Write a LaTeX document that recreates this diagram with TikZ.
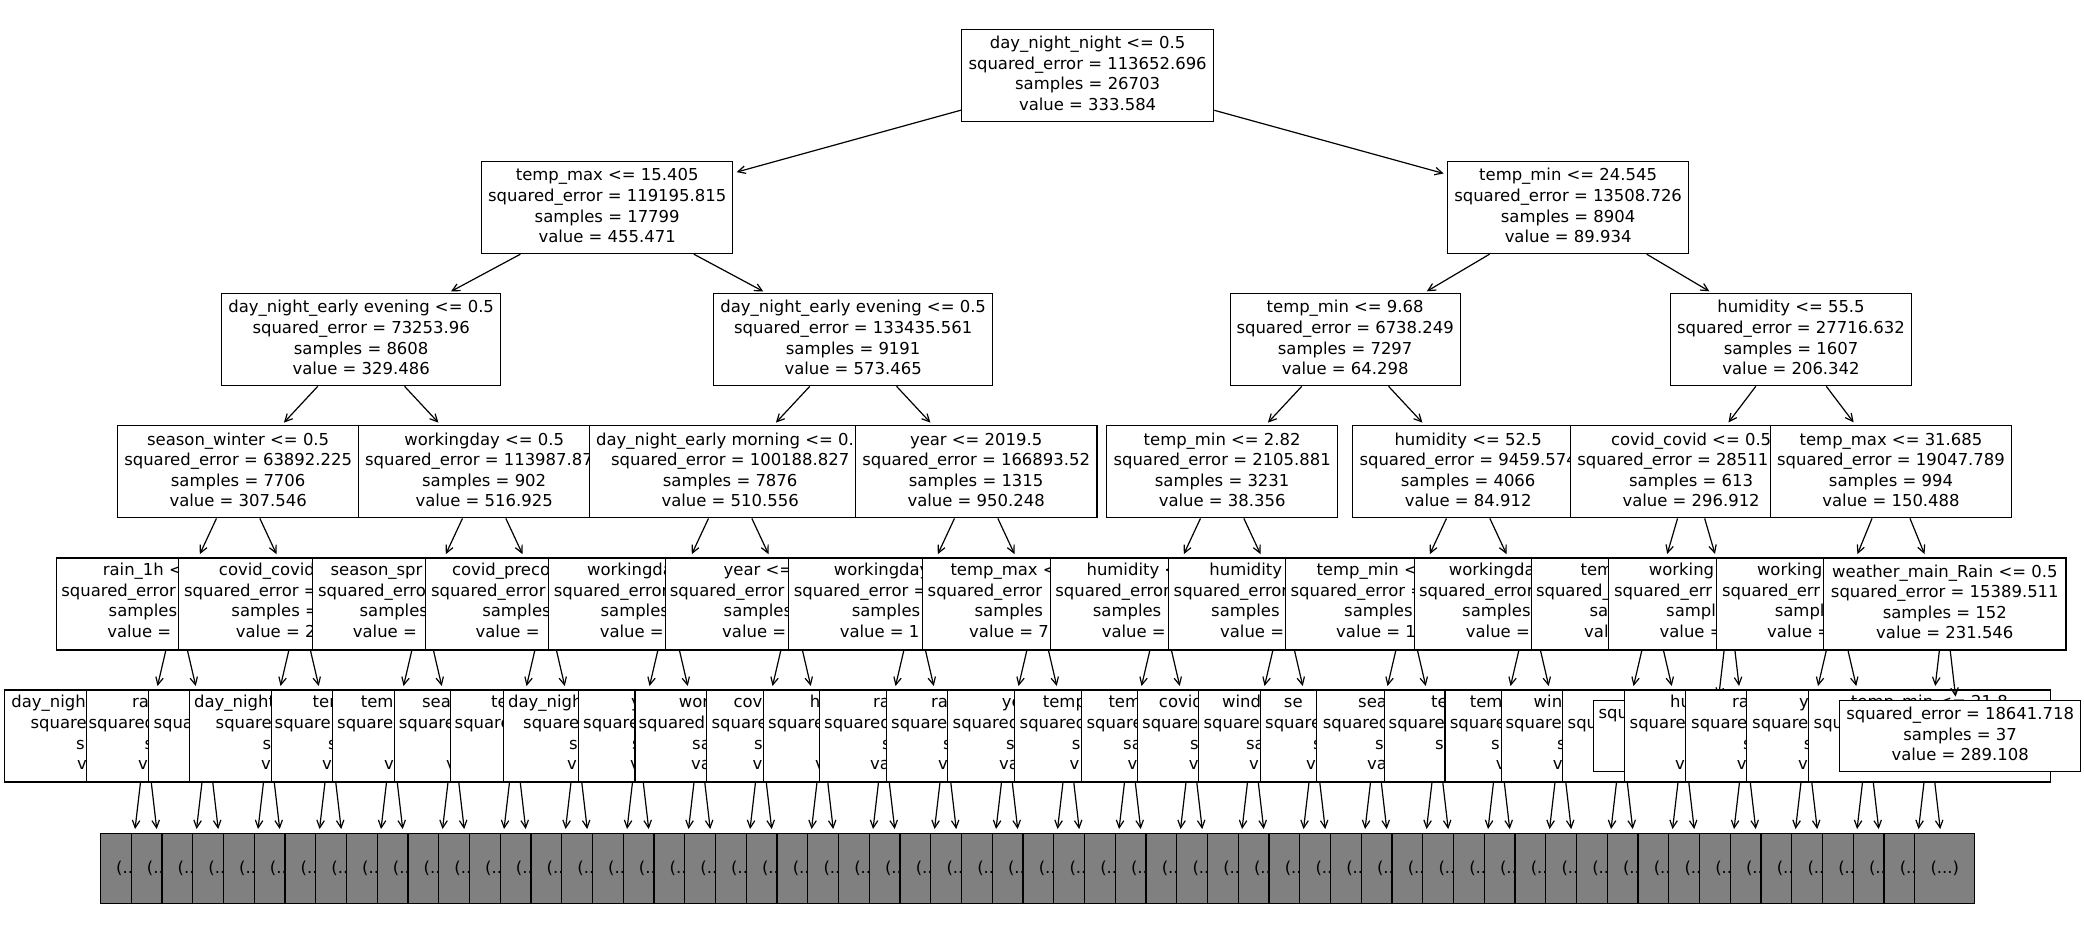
\documentclass[tikz,border=0pt]{standalone}
\usepackage{fontspec}
\setmainfont{DejaVu Sans}
\usetikzlibrary{arrows.meta}
\newcommand\fs{\fontsize{16.45}{20.6}\selectfont}
\newcounter{frc}
\newcommand\frg[3]{\stepcounter{frc}\node[fr] (fr\arabic{frc}) at (#1,#2) {#3};}
\newcommand\fourl[4]{\strut#1\\\strut#2\\\strut#3\\\strut#4}
\newcommand\threel[3]{\strut#1\\\strut#2\\\strut#3}
\def\rowda{573.0}\def\rowdb{593.6}\def\rowdc{614.2}\def\rowdd{634.8}
\def\rowfa{705.1}\def\rowfb{725.7}\def\rowfc{746.3}\def\rowfd{766.9}
\begin{document}
\begin{tikzpicture}[x=1pt,y=-1pt,
 bx/.style={draw=black,line width=1.2pt,fill=white,inner sep=0pt,minimum height=92pt,align=center,font=\fs},
 lfbox/.style={bx,minimum height=70.5pt},
 gbox/.style={draw=black,line width=1.2pt,fill=gray,inner sep=0pt,minimum width=60.2pt,minimum height=70pt,font=\fs},
 fr/.style={anchor=mid west,inner sep=0pt,font=\fs},
 frm/.style={anchor=mid,inner sep=0pt,font=\fs},
 arr/.style={line width=1.2pt,-{Straight Barb[length=7.5pt,width=7.5pt]},shorten >=3.5pt}]
\useasboundingbox (0,0) rectangle (2084,944);
\fill[white] (0,0) rectangle (2084,944);
% level 0
\node[bx,minimum width=252.2pt] (n0) at (1087.6,75.5) {\fourl{day\_night\_night <= 0.5}{squared\_error = 113652.696}{samples = 26703}{value = 333.584}};
% level 1
\node[bx,minimum width=251pt] (n1) at (607.15,207.6) {\fourl{temp\_max <= 15.405}{squared\_error = 119195.815}{samples = 17799}{value = 455.471}};
\node[bx,minimum width=241pt] (n2) at (1568.1,207.6) {\fourl{temp\_min <= 24.545}{squared\_error = 13508.726}{samples = 8904}{value = 89.934}};
% level 2
\node[bx,minimum width=279pt] (n3) at (361.15,339.7) {\fourl{day\_night\_early evening <= 0.5}{squared\_error = 73253.96}{samples = 8608}{value = 329.486}};
\node[bx,minimum width=279pt] (n4) at (853.15,339.7) {\fourl{day\_night\_early evening <= 0.5}{squared\_error = 133435.561}{samples = 9191}{value = 573.465}};
\node[bx,minimum width=230pt] (n5) at (1345.15,339.7) {\fourl{temp\_min <= 9.68}{squared\_error = 6738.249}{samples = 7297}{value = 64.298}};
\node[bx,minimum width=241pt] (n6) at (1791,339.7) {\fourl{humidity <= 55.5}{squared\_error = 27716.632}{samples = 1607}{value = 206.342}};
% level 3
\node[bx,minimum width=241.5pt] (q1) at (238.15,471.8) {\fourl{season\_winter <= 0.5}{squared\_error = 63892.225}{samples = 7706}{value = 307.546}};
\node[bx,minimum width=251.3pt] (q2) at (484.15,471.8) {\fourl{workingday <= 0.5}{squared\_error = 113987.87\phantom{0}}{samples = 902}{value = 516.925}};
\node[bx,minimum width=281.7pt] (q3) at (730.15,471.8) {\fourl{day\_night\_early morning <= 0.\phantom{5}}{squared\_error = 100188.827}{samples = 7876}{value = 510.556}};
\node[bx,minimum width=241.5pt] (q4) at (976.15,471.8) {\fourl{year <= 2019.5}{squared\_error = 166893.52}{samples = 1315}{value = 950.248}};
\node[bx,minimum width=230.8pt] (q5) at (1222.15,471.8) {\fourl{temp\_min <= 2.82}{squared\_error = 2105.881}{samples = 3231}{value = 38.356}};
\node[bx,minimum width=231.3pt] (q6) at (1468.15,471.8) {\fourl{humidity <= 52.5}{squared\_error = 9459.574}{samples = 4066}{value = 84.912}};
\node[bx,minimum width=241pt] (q7) at (1691.1,471.8) {\fourl{covid\_covid <= 0.5}{squared\_error = 28511\phantom{.000}}{samples = 613}{value = 296.912}};
\node[bx,minimum width=240.8pt] (q8) at (1890.98,471.8) {\fourl{temp\_max <= 31.685}{squared\_error = 19047.789}{samples = 994}{value = 150.488}};
\draw[arr] (n0) -- (n1); \draw[arr] (n0) -- (n2);
\draw[arr] (n1) -- (n3); \draw[arr] (n1) -- (n4);
\draw[arr] (n2) -- (n5); \draw[arr] (n2) -- (n6);
\draw[arr] (n3) -- (q1); \draw[arr] (n3) -- (q2);
\draw[arr] (n4) -- (q3); \draw[arr] (n4) -- (q4);
\draw[arr] (n5) -- (q5); \draw[arr] (n5) -- (q6);
\draw[arr] (n6) -- (q7); \draw[arr] (n6) -- (q8);
% level 4
\node[bx,minimum width=240.8pt] (p1) at (176.65,603.9) {};
\frg{102.7}{\rowda}{rain\_1h <}\frg{61.2}{\rowdb}{squared\_error}\frg{108.5}{\rowdc}{samples}\frg{107.1}{\rowdd}{value =}
\node[bx,minimum width=242.1pt] (p2) at (299.65,603.9) {};
\frg{218.75}{\rowda}{covid\_covid}\frg{183.9}{\rowdb}{squared\_error =}\frg{231.25}{\rowdc}{samples =}\frg{235.7}{\rowdd}{value = 2}
\node[bx,minimum width=220.3pt] (p3) at (422.65,603.9) {};
\frg{330.4}{\rowda}{season\_spr}\frg{317.9}{\rowdb}{squared\_erro}\frg{359.4}{\rowdc}{samples}\frg{352.7}{\rowdd}{value =}
\node[bx,minimum width=240.5pt] (p4) at (545.65,603.9) {};
\frg{451.8}{\rowda}{covid\_preco}\frg{430.8}{\rowdb}{squared\_error}\frg{482.1}{\rowdc}{samples}\frg{475.4}{\rowdd}{value =}
\node[bx,minimum width=239.9pt] (p5) at (668.65,603.9) {};
\frg{587}{\rowda}{workingda}\frg{553.6}{\rowdb}{squared\_error}\frg{600.4}{\rowdc}{samples}\frg{599.6}{\rowdd}{value =}
\node[bx,minimum width=252.1pt] (p6) at (791.65,603.9) {};
\frg{723.5}{\rowda}{year <=}\frg{669.6}{\rowdb}{squared\_error}\frg{723.5}{\rowdc}{samples}\frg{722}{\rowdd}{value =}
\node[bx,minimum width=252.9pt] (p7) at (914.65,603.9) {};
\frg{833.75}{\rowda}{workingday}\frg{793.6}{\rowdb}{squared\_error =}\frg{851.6}{\rowdc}{samples}\frg{839.6}{\rowdd}{value = 1}
\node[bx,minimum width=230.1pt] (p8) at (1037.65,603.9) {};
\frg{950.3}{\rowda}{temp\_max <}\frg{927.5}{\rowdb}{squared\_error}\frg{974.4}{\rowdc}{samples}\frg{969}{\rowdd}{value = 7}
\node[bx,minimum width=220.7pt] (p9) at (1160.65,603.9) {};
\frg{1086.4}{\rowda}{humidity <}\frg{1055.2}{\rowdb}{squared\_error}\frg{1092.7}{\rowdc}{samples}\frg{1101.6}{\rowdd}{value =}
\node[bx,minimum width=230.1pt] (p10) at (1283.65,603.9) {};
\frg{1209.2}{\rowda}{humidity}\frg{1173.5}{\rowdb}{squared\_error}\frg{1211}{\rowdc}{samples}\frg{1219.9}{\rowdd}{value =}
\node[bx,minimum width=242.3pt] (p11) at (1406.65,603.9) {};
\frg{1316.3}{\rowda}{temp\_min <}\frg{1290.4}{\rowdb}{squared\_error =}\frg{1344}{\rowdc}{samples}\frg{1336}{\rowdd}{value = 1}
\node[bx,minimum width=230.5pt] (p12) at (1529.65,603.9) {};
\frg{1448.7}{\rowda}{workingda}\frg{1418.8}{\rowdb}{squared\_error}\frg{1462}{\rowdc}{samples}\frg{1465.7}{\rowdd}{value =}
\node[bx,minimum width=242.7pt] (p13) at (1652.65,603.9) {};
\frg{1580.4}{\rowda}{tem}\frg{1535.8}{\rowdb}{squared\_}\frg{1589.4}{\rowdc}{sa}\frg{1584}{\rowdd}{val}
\node[bx,minimum width=242pt] (p14) at (1729.5,603.9) {};
\frg{1648.7}{\rowda}{working}\frg{1613.9}{\rowdb}{squared\_err}\frg{1666}{\rowdc}{sampl}\frg{1659.4}{\rowdd}{value =}
\node[bx,minimum width=241.1pt] (p15) at (1837.15,603.9) {};
\frg{1756.8}{\rowda}{working}\frg{1721.9}{\rowdb}{squared\_err}\frg{1774.6}{\rowdc}{sampl}\frg{1767}{\rowdd}{value =}
\node[bx,minimum width=242.2pt] (p16) at (1944.8,603.9) {\fourl{weather\_main\_Rain <= 0.5}{squared\_error = 15389.511}{samples = 152}{value = 231.546}};
\draw[arr] (q1) -- (p1); \draw[arr] (q1) -- (p2);
\draw[arr] (q2) -- (p3); \draw[arr] (q2) -- (p4);
\draw[arr] (q3) -- (p5); \draw[arr] (q3) -- (p6);
\draw[arr] (q4) -- (p7); \draw[arr] (q4) -- (p8);
\draw[arr] (q5) -- (p9); \draw[arr] (q5) -- (p10);
\draw[arr] (q6) -- (p11); \draw[arr] (q6) -- (p12);
\draw[arr] (q7) -- (p13); \draw[arr] (q7) -- (p14);
\draw[arr] (q8) -- (p15); \draw[arr] (q8) -- (p16);
% level 5
\node[bx,minimum width=282.75pt] (b1) at (145.875,736) {};
\frg{11.2}{\rowfa}{day\_nigh}\frg{30.4}{\rowfb}{square}\frg{76}{\rowfc}{s}\frg{77}{\rowfd}{v}
\draw[arr] (p1) -- (b1);
\node[bx,minimum width=242.35pt] (b2) at (207.375,736) {};
\frg{131.8}{\rowfa}{ra}\frg{88.4}{\rowfb}{squared}\frg{144.5}{\rowfc}{s}\frg{138}{\rowfd}{v}
\draw[arr] (p1) -- (b2);
\node[bx,minimum width=240.75pt] (b3) at (268.875,736) {};
\frg{153.3}{\rowfb}{squa}
\draw[arr] (p2) -- (b3);
\node[bx,minimum width=281.75pt] (b4) at (330.375,736) {};
\frg{194}{\rowfa}{day\_night}\frg{215.5}{\rowfb}{square}\frg{262.5}{\rowfc}{s}\frg{261}{\rowfd}{v}
\draw[arr] (p2) -- (b4);
\node[bx,minimum width=240.95pt] (b5) at (391.875,736) {};
\frg{312.5}{\rowfa}{tem}\frg{274.5}{\rowfb}{square}\frg{328}{\rowfc}{s}\frg{322}{\rowfd}{v}
\draw[arr] (p3) -- (b5);
\node[bx,minimum width=241.55pt] (b6) at (453.375,736) {};
\frg{360.7}{\rowfa}{tem}\frg{337}{\rowfb}{square}\frg{384}{\rowfd}{v}
\draw[arr] (p3) -- (b6);
\node[bx,minimum width=240.55pt] (b7) at (514.875,736) {};
\frg{421.9}{\rowfa}{sea}\frg{398.7}{\rowfb}{square}\frg{446}{\rowfd}{v}
\draw[arr] (p4) -- (b7);
\node[bx,minimum width=251.95pt] (b8) at (576.375,736) {};
\frg{491}{\rowfa}{te}\frg{454.5}{\rowfb}{square}
\draw[arr] (p4) -- (b8);
\node[bx,minimum width=268.55pt] (b9) at (637.875,736) {};
\frg{508}{\rowfa}{day\_nigh}\frg{523}{\rowfb}{square}\frg{569}{\rowfc}{s}\frg{567}{\rowfd}{v}
\draw[arr] (p5) -- (b9);
\node[bx,minimum width=241.55pt] (b10) at (699.375,736) {};
\frg{630.8}{\rowfa}{y}\frg{583}{\rowfb}{square}\frg{632}{\rowfc}{s}\frg{630}{\rowfd}{v}
\draw[arr] (p5) -- (b10);
\node[bx,minimum width=251.75pt] (b11) at (760.875,736) {};
\frg{678.6}{\rowfa}{wor}\frg{638.4}{\rowfb}{squared}\frg{692}{\rowfc}{sa}\frg{691}{\rowfd}{va}
\draw[arr] (p6) -- (b11);
\node[bx,minimum width=231.75pt] (b12) at (822.375,736) {};
\frg{733.3}{\rowfa}{cov}\frg{711.4}{\rowfb}{square}\frg{753.8}{\rowfc}{s}\frg{752.5}{\rowfd}{v}
\draw[arr] (p6) -- (b12);
\node[bx,minimum width=240.35pt] (b13) at (883.875,736) {};
\frg{809.6}{\rowfa}{h}\frg{768}{\rowfb}{square}\frg{815}{\rowfd}{v}
\draw[arr] (p7) -- (b13);
\node[bx,minimum width=251.75pt] (b14) at (945.375,736) {};
\frg{873}{\rowfa}{ra}\frg{824}{\rowfb}{squared}\frg{882}{\rowfc}{s}\frg{870}{\rowfd}{va}
\draw[arr] (p7) -- (b14);
\node[bx,minimum width=240.95pt] (b15) at (1006.875,736) {};
\frg{931}{\rowfa}{ra}\frg{891}{\rowfb}{square}\frg{943}{\rowfc}{s}\frg{937.8}{\rowfd}{v}
\draw[arr] (p8) -- (b15);
\node[bx,minimum width=241.55pt] (b16) at (1068.375,736) {};
\frg{1001.6}{\rowfa}{ye}\frg{952.5}{\rowfb}{squared}\frg{1006}{\rowfc}{s}\frg{999}{\rowfd}{va}
\draw[arr] (p8) -- (b16);
\node[bx,minimum width=230.55pt] (b17) at (1129.875,736) {};
\frg{1042.7}{\rowfa}{temp}\frg{1019.5}{\rowfb}{squared}\frg{1071.7}{\rowfc}{s}\frg{1069.5}{\rowfd}{v}
\draw[arr] (p9) -- (b17);
\node[bx,minimum width=219.75pt] (b18) at (1191.375,736) {};
\frg{1108.3}{\rowfa}{tem}\frg{1086.4}{\rowfb}{square}\frg{1123}{\rowfc}{sa}\frg{1127.5}{\rowfd}{v}
\draw[arr] (p9) -- (b18);
\node[bx,minimum width=230.15pt] (b19) at (1252.875,736) {};
\frg{1158.75}{\rowfa}{covid}\frg{1142}{\rowfb}{square}\frg{1190}{\rowfc}{s}\frg{1188.6}{\rowfd}{v}
\draw[arr] (p10) -- (b19);
\node[bx,minimum width=231.75pt] (b20) at (1314.375,736) {};
\frg{1222}{\rowfa}{wind}\frg{1203.4}{\rowfb}{square}\frg{1245.8}{\rowfc}{sa}\frg{1249}{\rowfd}{v}
\draw[arr] (p10) -- (b20);
\node[bx,minimum width=230.75pt] (b21) at (1375.875,736) {};
\frg{1283.75}{\rowfa}{se}\frg{1265}{\rowfb}{square}\frg{1312.8}{\rowfc}{s}\frg{1306}{\rowfd}{v}
\draw[arr] (p11) -- (b21);
\node[bx,minimum width=242.15pt] (b22) at (1437.375,736) {};
\frg{1358}{\rowfa}{sea}\frg{1322.6}{\rowfb}{squared}\frg{1375}{\rowfc}{s}\frg{1367}{\rowfd}{va}
\draw[arr] (p11) -- (b22);
\node[bx,minimum width=229.35pt] (b23) at (1498.875,736) {};
\frg{1431}{\rowfa}{te}\frg{1388.5}{\rowfb}{square}\frg{1435}{\rowfc}{s}
\draw[arr] (p12) -- (b23);
\node[bx,minimum width=230.75pt] (b24) at (1560.375,736) {};
\frg{1469.7}{\rowfa}{tem}\frg{1449.6}{\rowfb}{square}\frg{1491}{\rowfc}{s}\frg{1495.6}{\rowfd}{v}
\draw[arr] (p12) -- (b24);
\node[bx,minimum width=240.95pt] (b25) at (1621.875,736) {};
\frg{1533.5}{\rowfa}{win}\frg{1505.4}{\rowfb}{square}\frg{1557}{\rowfc}{s}\frg{1552.7}{\rowfd}{v}
\draw[arr] (p13) -- (b25);
\node[bx,minimum width=241.75pt] (b26) at (1683.375,736) {};
\frg{1567.5}{\rowfb}{squ}
\draw[arr] (p13) -- (b26);
\node[lfbox,minimum width=241.65pt] (lfa) at (1714.125,735.9) {};
\frg{1598.3}{715.3}{squ}
\draw[arr] (p14) -- (lfa);
\node[bx,minimum width=240.75pt] (b27) at (1744.875,736) {};
\frg{1670}{\rowfa}{hu}\frg{1629.5}{\rowfb}{square}\frg{1675}{\rowfd}{v}
\draw[arr] (p14) -- (b27);
\node[bx,minimum width=241.75pt] (b28) at (1806.375,736) {};
\frg{1732}{\rowfa}{ra}\frg{1691}{\rowfb}{square}\frg{1743}{\rowfc}{s}\frg{1736.7}{\rowfd}{v}
\draw[arr] (p15) -- (b28);
\node[bx,minimum width=242.75pt] (b29) at (1867.875,736) {};
\frg{1799}{\rowfa}{y}\frg{1752}{\rowfb}{square}\frg{1803.6}{\rowfc}{s}\frg{1798}{\rowfd}{v}
\draw[arr] (p15) -- (b29);
\node[bx,minimum width=241.75pt] (b30) at (1929.375,736) {};
\node[frm] (b30t) at (1929.375,\rowfa) {temp\_min <= 21.8};
\frg{1813.5}{\rowfb}{squ}
\draw[arr] (p16) -- (b30);
\node[lfbox,minimum width=241.3pt] (lfb) at (1960.125,735.9) {\threel{squared\_error = 18641.718}{samples = 37}{value = 289.108}};
\draw[arr] (p16) -- (lfb);
% level 6
\foreach \k in {0,...,59} {\node[gbox] (g\k) at ({130.5+30.75*\k},868.1) {(...)};}
\foreach \i in {1,...,30} {\pgfmathtruncatemacro\ga{2*\i-2}\pgfmathtruncatemacro\gb{2*\i-1}\draw[arr] (b\i) -- (g\ga); \draw[arr] (b\i) -- (g\gb);}
\end{tikzpicture}
\end{document}
